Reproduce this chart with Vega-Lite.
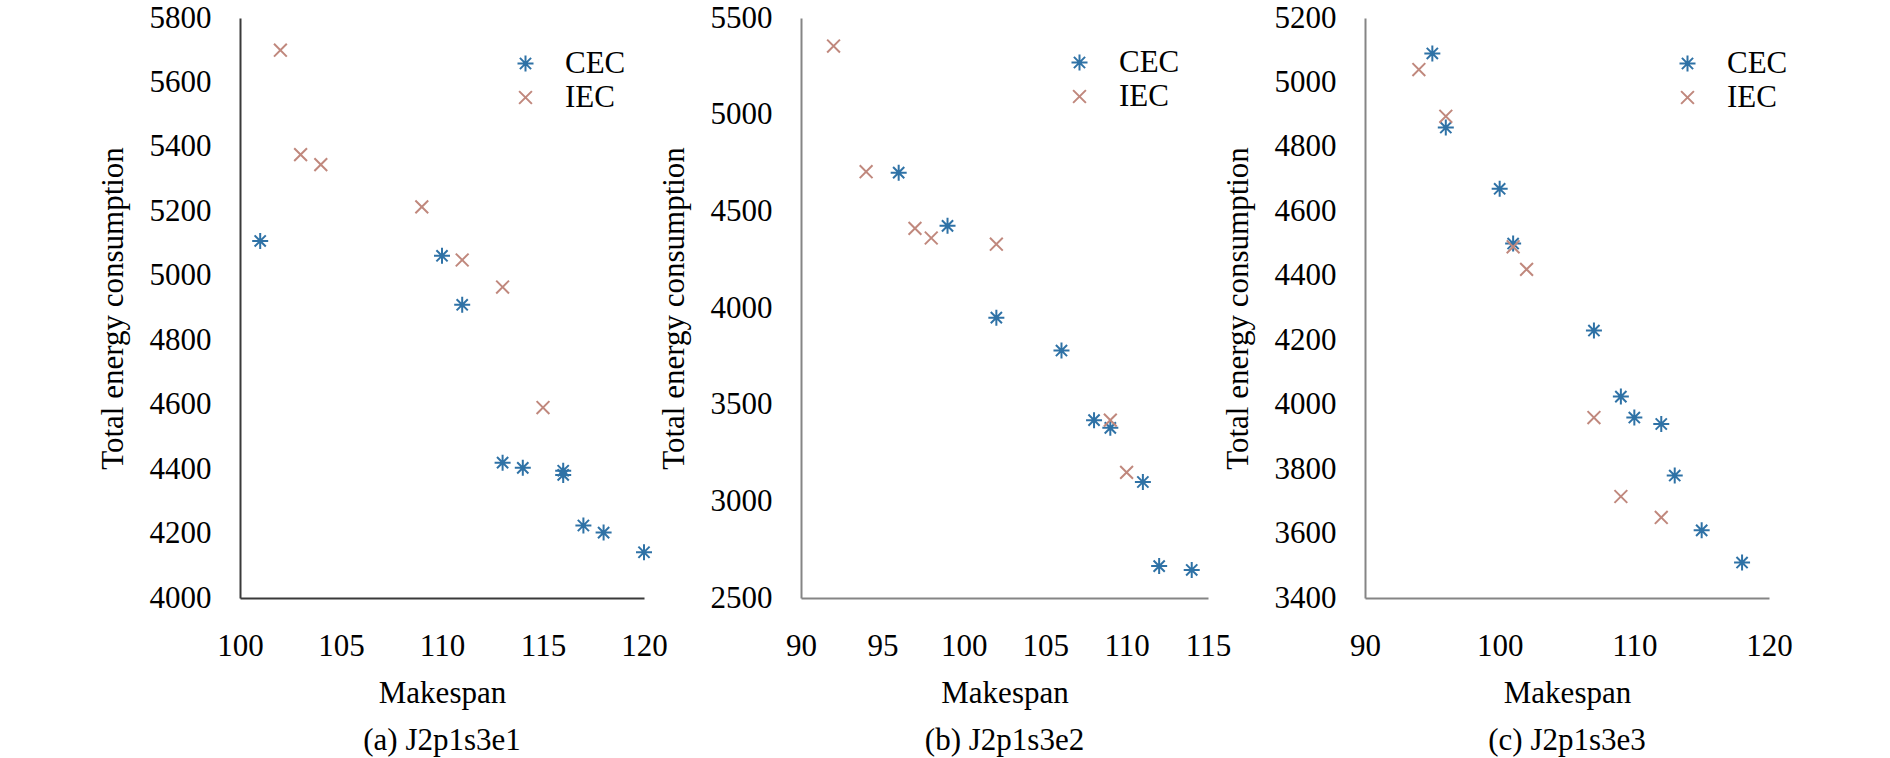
{
  "$schema": "https://vega.github.io/schema/vega-lite/v6.json",
  "background": "white",
  "padding": {"left": 97, "top": 2, "right": 5, "bottom": 2},
  "bounds": "flush",
  "spacing": 157,
  "datasets": {
    "a": [
      {"Makespan": 101, "Energy": 5108, "Method": "CEC"},
      {"Makespan": 110, "Energy": 5062, "Method": "CEC"},
      {"Makespan": 111, "Energy": 4910, "Method": "CEC"},
      {"Makespan": 113, "Energy": 4420, "Method": "CEC"},
      {"Makespan": 114, "Energy": 4404, "Method": "CEC"},
      {"Makespan": 116, "Energy": 4395, "Method": "CEC"},
      {"Makespan": 116, "Energy": 4382, "Method": "CEC"},
      {"Makespan": 117, "Energy": 4225, "Method": "CEC"},
      {"Makespan": 118, "Energy": 4203, "Method": "CEC"},
      {"Makespan": 120, "Energy": 4142, "Method": "CEC"},
      {"Makespan": 102, "Energy": 5700, "Method": "IEC"},
      {"Makespan": 103, "Energy": 5376, "Method": "IEC"},
      {"Makespan": 104, "Energy": 5345, "Method": "IEC"},
      {"Makespan": 109, "Energy": 5214, "Method": "IEC"},
      {"Makespan": 111, "Energy": 5049, "Method": "IEC"},
      {"Makespan": 113, "Energy": 4965, "Method": "IEC"},
      {"Makespan": 115, "Energy": 4591, "Method": "IEC"}
    ],
    "b": [
      {"Makespan": 96, "Energy": 4700, "Method": "CEC"},
      {"Makespan": 99, "Energy": 4425, "Method": "CEC"},
      {"Makespan": 102, "Energy": 3950, "Method": "CEC"},
      {"Makespan": 106, "Energy": 3780, "Method": "CEC"},
      {"Makespan": 108, "Energy": 3420, "Method": "CEC"},
      {"Makespan": 109, "Energy": 3380, "Method": "CEC"},
      {"Makespan": 111, "Energy": 3100, "Method": "CEC"},
      {"Makespan": 112, "Energy": 2665, "Method": "CEC"},
      {"Makespan": 114, "Energy": 2645, "Method": "CEC"},
      {"Makespan": 92, "Energy": 5355, "Method": "IEC"},
      {"Makespan": 94, "Energy": 4705, "Method": "IEC"},
      {"Makespan": 97, "Energy": 4412, "Method": "IEC"},
      {"Makespan": 98, "Energy": 4362, "Method": "IEC"},
      {"Makespan": 102, "Energy": 4330, "Method": "IEC"},
      {"Makespan": 109, "Energy": 3420, "Method": "IEC"},
      {"Makespan": 110, "Energy": 3150, "Method": "IEC"}
    ],
    "c": [
      {"Makespan": 95, "Energy": 5090, "Method": "CEC"},
      {"Makespan": 96, "Energy": 4860, "Method": "CEC"},
      {"Makespan": 100, "Energy": 4670, "Method": "CEC"},
      {"Makespan": 101, "Energy": 4500, "Method": "CEC"},
      {"Makespan": 107, "Energy": 4230, "Method": "CEC"},
      {"Makespan": 109, "Energy": 4025, "Method": "CEC"},
      {"Makespan": 110, "Energy": 3960, "Method": "CEC"},
      {"Makespan": 112, "Energy": 3940, "Method": "CEC"},
      {"Makespan": 113, "Energy": 3780, "Method": "CEC"},
      {"Makespan": 115, "Energy": 3610, "Method": "CEC"},
      {"Makespan": 118, "Energy": 3510, "Method": "CEC"},
      {"Makespan": 94, "Energy": 5040, "Method": "IEC"},
      {"Makespan": 96, "Energy": 4895, "Method": "IEC"},
      {"Makespan": 101, "Energy": 4490, "Method": "IEC"},
      {"Makespan": 102, "Energy": 4420, "Method": "IEC"},
      {"Makespan": 107, "Energy": 3960, "Method": "IEC"},
      {"Makespan": 109, "Energy": 3715, "Method": "IEC"},
      {"Makespan": 112, "Energy": 3650, "Method": "IEC"}
    ]
  },
  "resolve": {"scale": {"x": "independent", "y": "independent", "color": "independent", "shape": "independent"}},
  "hconcat": [
    {
      "width": 404,
      "height": 580,
      "data": {"name": "a"},
      "title": {"text": "(a) J2p1s3e1", "orient": "bottom", "offset": 18},
      "mark": {"type": "point", "filled": false, "size": 256, "strokeWidth": 2, "opacity": 1},
      "encoding": {
        "x": {
          "field": "Makespan", "type": "quantitative", "title": "Makespan",
          "scale": {"domain": [100, 120], "nice": false, "zero": false},
          "axis": {"values": [100, 105, 110, 115, 120], "domainColor": "#3a3a3a"}
        },
        "y": {
          "field": "Energy", "type": "quantitative", "title": "Total energy consumption",
          "scale": {"domain": [4000, 5800], "nice": false, "zero": false},
          "axis": {"values": [4000, 4200, 4400, 4600, 4800, 5000, 5200, 5400, 5600, 5800], "format": "d", "domainColor": "#3a3a3a"}
        },
        "color": {
          "field": "Method", "type": "nominal",
          "scale": {"domain": ["CEC", "IEC"], "range": ["#2f72a6", "#c0887d"]},
          "legend": {"orient": "none", "legendX": 270, "legendY": 30, "title": null}
        },
        "shape": {
          "field": "Method", "type": "nominal",
          "scale": {"domain": ["CEC", "IEC"], "range": ["M0,-1L0,1M-1,0L1,0M-0.7,-0.7L0.7,0.7M-0.7,0.7L0.7,-0.7", "M-0.8,-0.8L0.8,0.8M-0.8,0.8L0.8,-0.8"]},
          "legend": {"orient": "none", "legendX": 270, "legendY": 30, "title": null}
        }
      }
    },
    {
      "width": 407,
      "height": 580,
      "data": {"name": "b"},
      "title": {"text": "(b) J2p1s3e2", "orient": "bottom", "offset": 18},
      "mark": {"type": "point", "filled": false, "size": 256, "strokeWidth": 2, "opacity": 1},
      "encoding": {
        "x": {
          "field": "Makespan", "type": "quantitative", "title": "Makespan",
          "scale": {"domain": [90, 115], "nice": false, "zero": false},
          "axis": {"values": [90, 95, 100, 105, 110, 115], "domainColor": "#858585"}
        },
        "y": {
          "field": "Energy", "type": "quantitative", "title": "Total energy consumption",
          "scale": {"domain": [2500, 5500], "nice": false, "zero": false},
          "axis": {"values": [2500, 3000, 3500, 4000, 4500, 5000, 5500], "format": "d", "domainColor": "#858585"}
        },
        "color": {
          "field": "Method", "type": "nominal",
          "scale": {"domain": ["CEC", "IEC"], "range": ["#2f72a6", "#c0887d"]},
          "legend": {"orient": "none", "legendX": 263, "legendY": 29, "title": null}
        },
        "shape": {
          "field": "Method", "type": "nominal",
          "scale": {"domain": ["CEC", "IEC"], "range": ["M0,-1L0,1M-1,0L1,0M-0.7,-0.7L0.7,0.7M-0.7,0.7L0.7,-0.7", "M-0.8,-0.8L0.8,0.8M-0.8,0.8L0.8,-0.8"]},
          "legend": {"orient": "none", "legendX": 263, "legendY": 29, "title": null}
        }
      }
    },
    {
      "width": 404,
      "height": 580,
      "data": {"name": "c"},
      "title": {"text": "(c) J2p1s3e3", "orient": "bottom", "offset": 18},
      "mark": {"type": "point", "filled": false, "size": 256, "strokeWidth": 2, "opacity": 1},
      "encoding": {
        "x": {
          "field": "Makespan", "type": "quantitative", "title": "Makespan",
          "scale": {"domain": [90, 120], "nice": false, "zero": false},
          "axis": {"values": [90, 100, 110, 120], "domainColor": "#858585"}
        },
        "y": {
          "field": "Energy", "type": "quantitative", "title": "Total energy consumption",
          "scale": {"domain": [3400, 5200], "nice": false, "zero": false},
          "axis": {"values": [3400, 3600, 3800, 4000, 4200, 4400, 4600, 4800, 5000, 5200], "format": "d", "domainColor": "#858585"}
        },
        "color": {
          "field": "Method", "type": "nominal",
          "scale": {"domain": ["CEC", "IEC"], "range": ["#2f72a6", "#c0887d"]},
          "legend": {"orient": "none", "legendX": 307, "legendY": 30, "title": null}
        },
        "shape": {
          "field": "Method", "type": "nominal",
          "scale": {"domain": ["CEC", "IEC"], "range": ["M0,-1L0,1M-1,0L1,0M-0.7,-0.7L0.7,0.7M-0.7,0.7L0.7,-0.7", "M-0.8,-0.8L0.8,0.8M-0.8,0.8L0.8,-0.8"]},
          "legend": {"orient": "none", "legendX": 307, "legendY": 30, "title": null}
        }
      }
    }
  ],
  "config": {
    "view": {"stroke": null},
    "font": "Liberation Serif",
    "style": {
      "guide-label": {"font": "Liberation Serif"},
      "guide-title": {"font": "Liberation Serif"},
      "group-title": {"font": "Liberation Serif"}
    },
    "axis": {
      "grid": false,
      "ticks": false,
      "tickSize": 0,
      "domainWidth": 2,
      "labelFont": "Liberation Serif",
      "labelFontSize": 31,
      "labelColor": "#000000",
      "labelFlush": false,
      "labelOverlap": false,
      "titleFont": "Liberation Serif",
      "titleFontSize": 31,
      "titleFontWeight": "normal",
      "titleColor": "#000000"
    },
    "axisX": {"labelPadding": 33, "titlePadding": 17},
    "axisY": {"labelPadding": 29, "titlePadding": 20},
    "legend": {
      "labelFont": "Liberation Serif",
      "labelFontSize": 31,
      "labelColor": "#000000",
      "symbolSize": 256,
      "symbolStrokeWidth": 2,
      "labelOffset": 24,
      "rowPadding": 2
    },
    "title": {
      "font": "Liberation Serif",
      "fontSize": 31,
      "fontWeight": "normal",
      "color": "#000000",
      "anchor": "middle"
    }
  }
}
